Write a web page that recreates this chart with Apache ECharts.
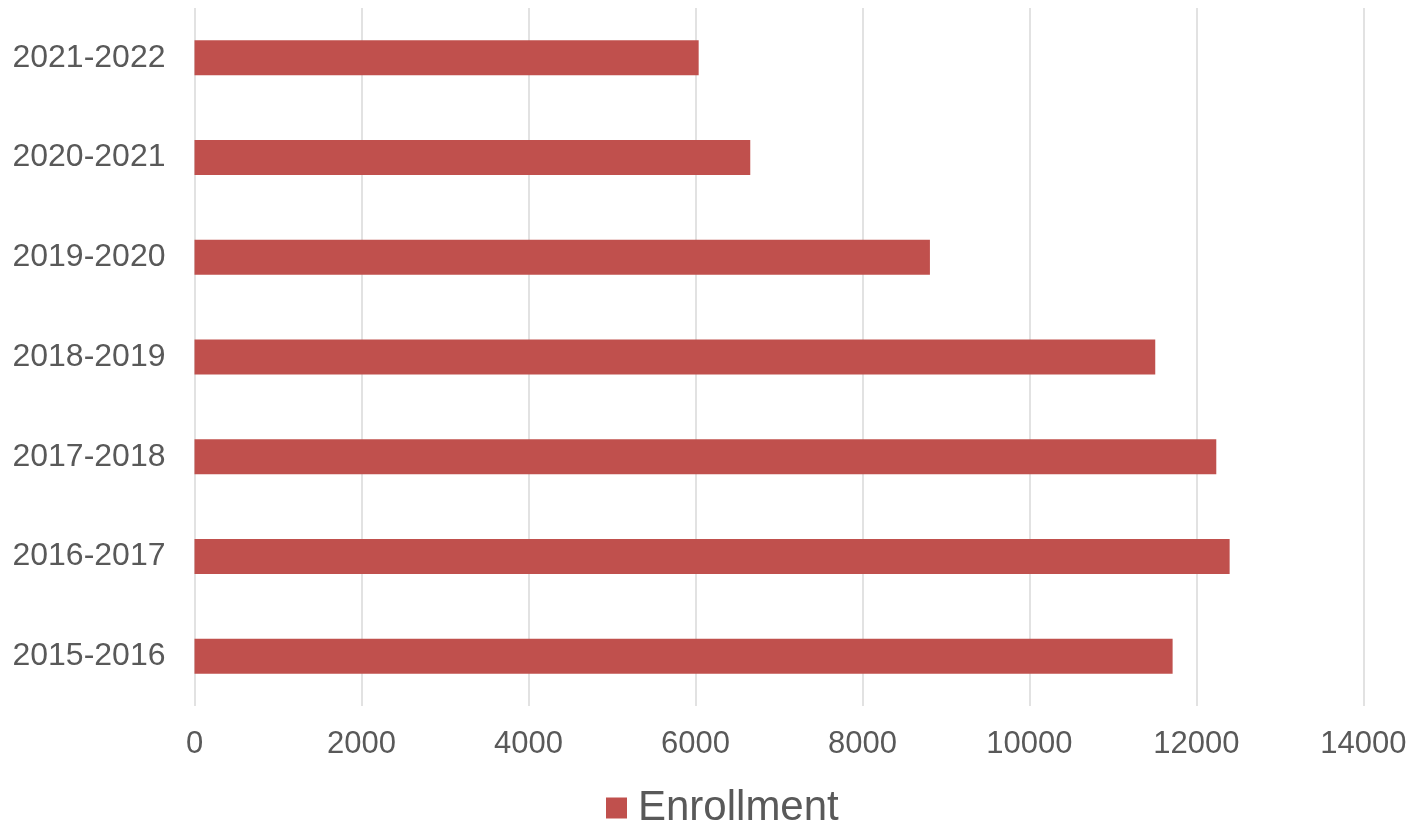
<!DOCTYPE html>
<html>
<head>
<meta charset="utf-8">
<script src="https://cdn.jsdelivr.net/npm/echarts@6/dist/echarts.min.js"></script>
<style>html,body{margin:0;padding:0;background:#fff;}#c{width:1414px;height:828px;}</style>
</head>
<body>
<div id="c"></div>
<script>
const categories = ['2015-2016','2016-2017','2017-2018','2018-2019','2019-2020','2020-2021','2021-2022'];
const enrollment = [11716, 12399, 12239, 11508, 8809, 6657, 6039];
const seriesName = 'Enrollment';

const chart = echarts.init(document.getElementById('c'));
chart.setOption({
  animation: false,
  textStyle: { fontFamily: 'Liberation Sans, Arial, sans-serif' },
  grid: { left: 194.5, right: 50.7, top: 8, bottom: 122, containLabel: false },
  legend: {
    top: 787,
    padding: 0,
    left: 606,
    itemWidth: 21,
    itemHeight: 21,
    icon: 'rect',
    textStyle: { fontSize: 42, color: '#595959', padding: [0, 0, 0, 6] },
    data: [seriesName]
  },
  xAxis: {
    type: 'value',
    min: 0, max: 14000, interval: 2000,
    axisLine: { show: false },
    axisTick: { show: false },
    splitLine: { lineStyle: { color: '#D9D9D9', width: 1.5 } },
    axisLabel: { fontSize: 31, color: '#595959', margin: 23, formatter: function (v) { return String(v); } }
  },
  yAxis: {
    type: 'category',
    data: categories,
    axisLine: { show: false },
    axisTick: { show: false },
    axisLabel: { fontSize: 32, color: '#595959', margin: 29 }
  },
  series: [{
    name: seriesName,
    type: 'bar',
    data: enrollment,
    barWidth: 35,
    itemStyle: { color: '#C0504D' }
  }]
});
</script>
</body>
</html>
